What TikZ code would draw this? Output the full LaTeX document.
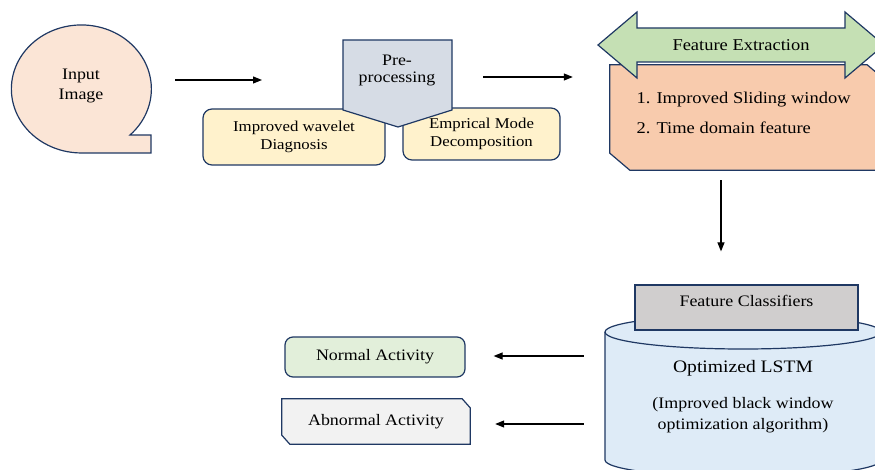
\documentclass[tikz,border=0pt]{standalone}
\usepackage{fontspec}
\setmainfont{Liberation Serif}[FakeStretch=1.12]
\usetikzlibrary{arrows.meta,backgrounds}
\definecolor{edgenavy}{RGB}{31,56,99}
\definecolor{bubblepeach}{RGB}{251,229,214}
\definecolor{preslate}{RGB}{214,220,229}
\definecolor{stepyellow}{RGB}{255,242,204}
\definecolor{arrowgreen}{RGB}{197,224,180}
\definecolor{featorange}{RGB}{248,203,173}
\definecolor{lstmblue}{RGB}{222,235,247}
\definecolor{classgray}{RGB}{208,206,206}
\definecolor{normalgreen}{RGB}{226,239,218}
\definecolor{abnormalgray}{RGB}{242,242,242}
\begin{document}
\begin{tikzpicture}[x=1pt, y=-1pt,
    every node/.style={font=\fontsize{16}{19}\selectfont, align=center},
    outline/.style={draw=edgenavy, line width=1.2pt},
    flow/.style={-{Triangle[length=9pt,width=7pt]}, line width=1.1pt},
    subbox/.style={outline, fill=stepyellow, rounded corners=9pt, minimum width=182pt, font=\fontsize{15}{18}\selectfont}
]
\useasboundingbox (0,0) rectangle (875,470);

\filldraw[outline, fill=bubblepeach] (130,135) arc[start angle=-46, end angle=270, x radius=70pt, y radius=64pt] -- (151,153) -- (151,135) -- cycle;
\node (inp) [minimum width=140pt, font=\fontsize{16}{20}\selectfont] at (81,86) {Input\\Image};

\node (wav) [subbox, minimum height=56pt] at (294,137) {Improved wavelet\\Diagnosis};
\node (emd) [subbox, minimum width=157pt, minimum height=52pt] at (481.5,134) {Emprical Mode\\Decomposition};
\filldraw[outline, fill=preslate] (343,40) -- (452,40) -- (452,110) -- (398,127) -- (343,110) -- cycle;
\node (pre) [font=\fontsize{16}{17}\selectfont] at (397,70) {Pre-\\processing};

\node (feat) [minimum width=277pt, minimum height=105pt, inner sep=0pt] at (748.5,117.5) {};
\filldraw[outline, fill=featorange] (feat.north west) -- ([xshift=-20pt]feat.north east) -- ([yshift=-17pt]feat.north east) -- (feat.south east) -- ([xshift=20pt]feat.south west) -- ([yshift=17pt]feat.south west) -- cycle;
\node (featlist) [anchor=west, align=left, font=\fontsize{16.5}{19}\selectfont] at (633,113) {1. Improved Sliding window\\[11pt]2. Time domain feature};
\filldraw[outline, fill=arrowgreen] (598,45) -- (637,12) -- (637,28) -- (845,28) -- (845,12) -- (884,45) -- (845,78) -- (845,62) -- (637,62) -- (637,78) -- cycle;
\node (fe) [font=\fontsize{16.5}{19}\selectfont] at (741,45) {Feature Extraction};

\filldraw[outline, fill=lstmblue] (605,332) -- (605,460) arc[start angle=180, end angle=360, x radius=138pt, y radius=17pt] -- (881,332) arc[start angle=0, end angle=180, x radius=138pt, y radius=17pt] -- cycle;
\draw[outline] (605,332) arc[start angle=180, end angle=360, x radius=138pt, y radius=17pt];
\node (lstm) [minimum width=276pt, font=\fontsize{17.5}{21}\selectfont] at (743,368) {Optimized LSTM};
\node (lstmnote) [font=\fontsize{16}{21}\selectfont] at (743,415.5) {(Improved black window\\optimization algorithm)};
\node (clf) [outline, fill=classgray, minimum width=223pt, minimum height=45pt, text height=11pt, text depth=13pt] at (746.5,307.5) {Feature Classifiers};

\node (normal) [outline, fill=normalgreen, rounded corners=8pt, minimum width=180pt, minimum height=40pt] at (375,357) {Normal Activity};
\node (abn) [minimum width=188pt, minimum height=45pt] at (376,421.5) {Abnormal Activity};
\begin{scope}[on background layer]
\filldraw[outline, fill=abnormalgray] (abn.north west) -- ([xshift=-8pt]abn.north east) -- ([yshift=-9pt]abn.north east) -- (abn.south east) -- ([xshift=8pt]abn.south west) -- ([yshift=9pt]abn.south west) -- cycle;
\end{scope}

\draw[flow] ([xshift=24pt,yshift=6pt]inp.east) -- ([xshift=-135pt,yshift=-10pt]pre.center);
\draw[flow] ([xshift=86pt,yshift=-7pt]pre.center) -- ([xshift=-37pt,yshift=40.5pt]feat.west);
\draw[flow] ([xshift=-27.5pt,yshift=-10pt]feat.south) -- ([xshift=-25.5pt,yshift=33pt]clf.north);
\draw[flow] ([xshift=-21pt,yshift=12pt]lstm.west) -- ([xshift=28pt,yshift=1pt]normal.east);
\draw[flow] ([xshift=-21pt,yshift=-56pt]lstm.west) -- ([xshift=25pt,yshift=-2.5pt]abn.east);
\end{tikzpicture}
\end{document}
